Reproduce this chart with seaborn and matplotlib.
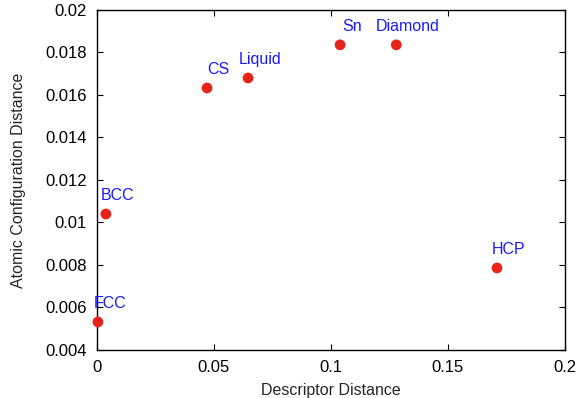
import matplotlib
matplotlib.use("Agg")
import matplotlib.pyplot as plt
import seaborn as sns
import pandas as pd

labels = ["FCC", "BCC", "CS", "Liquid", "Sn", "Diamond", "HCP"]
descriptor_distance = [0.0006, 0.0040, 0.0472, 0.0647, 0.1040, 0.1280, 0.1710]
config_distance = [0.00532, 0.01040, 0.01633, 0.01680, 0.01836, 0.01836, 0.00786]
x_ticks = [0, 0.05, 0.1, 0.15, 0.2]
x_tick_labels = ["0", "0.05", "0.1", "0.15", "0.2"]
y_ticks = [0.004, 0.006, 0.008, 0.01, 0.012, 0.014, 0.016, 0.018, 0.02]
y_tick_labels = ["0.004", "0.006", "0.008", "0.01", "0.012", "0.014", "0.016", "0.018", "0.02"]

df = pd.DataFrame({"x": descriptor_distance, "y": config_distance, "label": labels})

sns.set_style("ticks", {"xtick.direction": "in", "ytick.direction": "in"})
plt.rcParams["font.family"] = ["Liberation Sans", "DejaVu Sans"]

fig = plt.figure(figsize=(5.86, 3.98), dpi=100)
ax = fig.add_axes([0.1647, 0.1206, 0.7993, 0.8543])
sns.scatterplot(data=df, x="x", y="y", ax=ax, color="#e8241a", s=60,
                edgecolor="none", legend=False, zorder=3, clip_on=False)

for _, r in df.iterrows():
    ax.annotate(r["label"], (r["x"], r["y"]), xytext=(8.5, 13.5),
                textcoords="offset points", ha="center", va="center",
                color="#1a1aff", fontsize=11.5)

ax.set_xlim(0, 0.2)
ax.set_ylim(0.004, 0.02)
ax.set_xticks(x_ticks)
ax.set_xticklabels(x_tick_labels)
ax.set_yticks(y_ticks)
ax.set_yticklabels(y_tick_labels)
ax.tick_params(axis="both", which="both", direction="in", top=True, right=True,
               length=4, width=0.8, labelsize=12, colors="black", pad=7)
for s in ax.spines.values():
    s.set_linewidth(1.0)
    s.set_color("black")
    s.set_visible(True)
ax.set_xlabel("Descriptor Distance", fontsize=11.5, labelpad=6)
ax.set_ylabel("Atomic Configuration Distance", fontsize=11.5, labelpad=14)

fig.savefig("out.png", dpi=100)
